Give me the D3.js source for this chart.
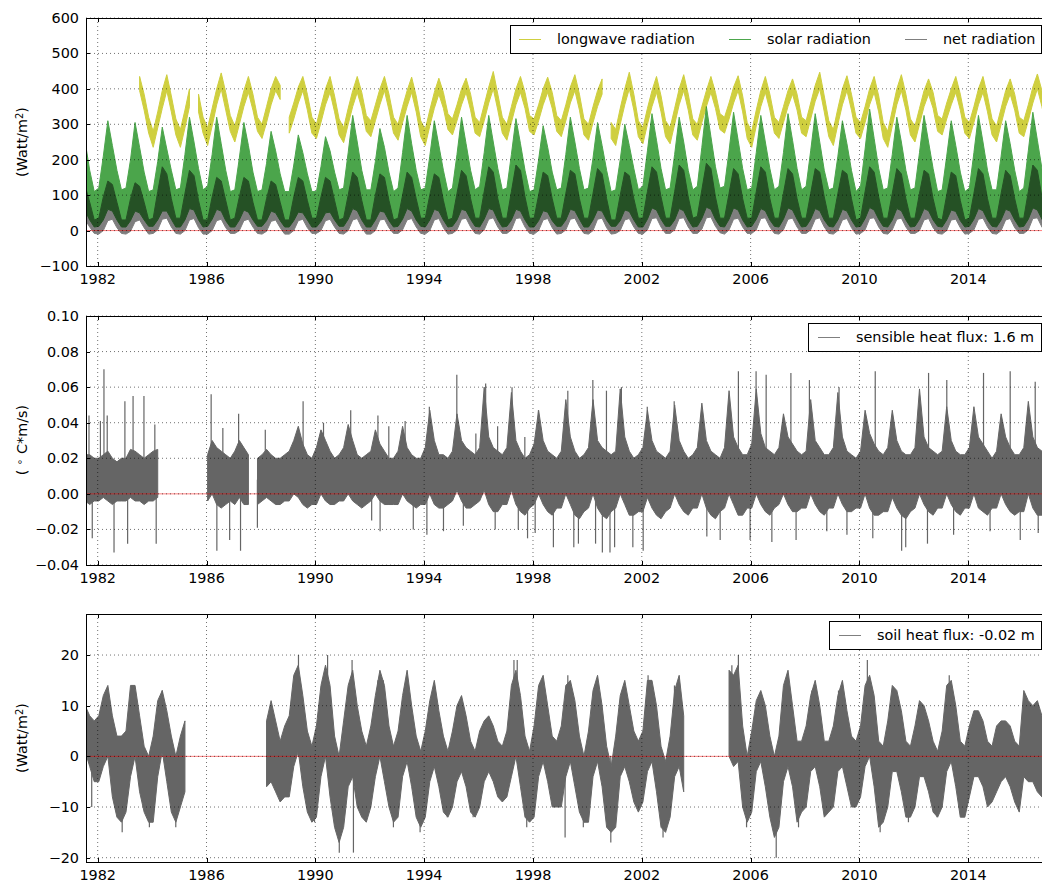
<!DOCTYPE html>
<html>
<head>
<meta charset="utf-8">
<script src="https://cdn.jsdelivr.net/npm/d3@7"></script>
<style>
  body { margin: 0; background: #fff; }
  svg { font-family: "DejaVu Sans", sans-serif; }
</style>
</head>
<body>
<svg id="fig" width="1042" height="882"></svg>
<script>
// bimonthly envelope samples (min / max of the daily values)
// first sample mid-July 1981, then one every 2 months: Jan Mar May Jul Sep Nov
var _ = null;
var sampleStart = 1981.54;
var sampleStep = 1 / 6;

var longwaveHi = [
  _,_,_,
  _,_,_,_,_,_,  _,_,_,435,385,320,
  280,335,395,440,380,315,  285,340,400,_,385,320,
  290,345,400,445,390,325,  295,345,395,435,385,320,
  300,350,400,435,410,_,    320,360,405,435,385,320,
  300,350,400,435,380,315,  290,345,395,435,390,325,
  310,355,400,435,385,320,  300,350,395,433,380,310,
  285,340,390,430,390,330,  315,355,400,430,385,320,
  305,355,405,449,385,320,  300,350,400,435,390,325,
  315,355,400,433,390,325,  310,355,405,440,385,315,
  300,350,395,428,_,305,    285,345,400,447,385,310,
  290,345,395,435,380,310,  290,345,400,440,385,315,
  300,350,395,435,390,330,  320,360,405,437,380,305,
  280,340,395,435,385,320,  305,350,395,428,385,320,
  310,360,410,447,380,310,  285,345,400,437,385,320,
  305,350,400,435,380,305,  280,340,400,440,385,315,
  295,345,395,428,390,325,  315,360,400,435,385,320,
  305,350,400,435,380,315,  295,345,395,428,385,320,
  310,355,405,442,395,330
];
var longwaveLo = [
  _,_,_,
  _,_,_,_,_,_,  _,_,_,395,340,275,
  235,290,345,395,335,270,  235,290,350,_,335,275,
  240,295,355,400,340,280,  250,300,350,390,340,280,
  260,305,355,395,370,_,    275,315,360,395,340,275,
  260,305,355,390,335,270,  248,300,350,390,345,280,
  265,310,355,395,340,275,  255,305,350,390,335,265,
  240,295,345,385,345,285,  270,310,355,390,340,275,
  265,310,360,400,340,275,  255,305,355,390,345,280,
  270,310,355,390,345,280,  265,310,360,395,340,270,
  255,305,350,385,_,260,    240,300,355,400,340,265,
  245,300,350,390,335,265,  245,300,355,395,340,270,
  255,305,350,390,345,285,  275,315,360,395,335,260,
  235,295,350,390,340,275,  260,305,350,385,340,275,
  265,315,365,400,335,265,  240,300,355,395,340,275,
  260,305,355,390,335,260,  235,295,355,395,340,270,
  250,300,350,385,345,280,  270,315,355,390,340,275,
  260,305,355,390,335,270,  250,300,350,385,340,275,
  265,310,360,400,350,285
];

var solarHi = [
  250,170,110,
  120,210,310,240,170,115,  120,200,305,235,165,110,
  115,195,292,230,170,115,  120,215,320,250,175,115,
  125,215,320,245,170,110,  115,205,305,240,165,110,
  115,190,280,225,160,110,  110,185,270,220,160,110,
  110,180,265,225,165,115,  120,220,325,250,170,115,
  115,195,288,235,165,110,  120,220,325,245,170,115,
  120,210,310,240,170,110,  120,215,320,245,170,115,
  125,220,325,250,175,115,  120,215,316,245,170,110,
  115,200,296,235,165,115,  120,215,320,250,175,115,
  120,205,305,240,170,110,  115,200,300,240,175,115,
  125,225,330,255,175,115,  120,215,320,250,170,115,
  125,235,350,265,180,120,  125,225,334,255,175,115,
  120,220,325,250,175,115,  125,220,330,255,175,115,
  125,225,330,250,170,115,  120,210,310,245,170,110,
  125,230,343,260,175,115,  120,215,320,250,170,115,
  120,220,325,250,175,110,  115,210,310,240,165,110,
  120,220,325,250,170,115,  115,210,310,245,170,110,
  120,225,334,255,175,120
];
var solarLo = [
  55,30,10,
  12,30,60,55,30,10,  10,28,55,50,30,12,
  12,30,55,55,32,10,  10,30,62,58,30,10,
  12,32,60,55,28,10,  10,30,58,52,30,12,
  12,28,55,50,28,10,  10,28,52,50,30,10,
  10,26,50,52,30,12,  12,32,62,56,30,10,
  10,30,55,52,28,10,  12,32,62,55,30,12,
  10,30,60,55,30,10,  12,30,60,56,32,12,
  10,32,62,58,30,10,  12,30,60,55,30,10,
  10,28,56,52,28,12,  12,30,60,56,32,10,
  10,30,58,55,30,12,  12,28,58,54,30,10,
  10,32,64,58,32,12,  12,30,62,56,30,10,
  12,34,66,60,32,12,  10,32,64,58,30,10,
  12,32,62,56,30,12,  10,32,64,58,32,10,
  12,32,62,56,30,12,  10,30,60,55,30,10,
  12,34,65,58,32,12,  10,30,62,56,30,10,
  12,32,62,56,30,12,  10,30,58,54,28,10,
  12,32,62,56,30,12,  10,30,60,55,30,10,
  12,32,64,58,32,12
];

var netHi = [
  125,80,30,
  35,95,140,130,80,30,   30,90,135,125,80,30,
  35,110,180,160,90,35,  35,105,170,155,85,30,
  30,95,150,140,85,30,   35,95,150,140,80,30,
  30,90,140,130,80,30,   30,95,150,140,85,35,
  35,95,150,140,85,30,   35,100,165,150,85,30,
  30,100,160,150,85,30,  35,100,165,150,90,35,
  35,100,160,150,85,30,  35,105,170,155,90,35,
  35,110,180,165,90,35,  35,110,185,170,95,35,
  35,100,165,155,90,35,  35,105,170,160,90,35,
  35,105,175,160,90,30,  30,100,165,155,90,35,
  35,110,180,165,95,35,  35,110,185,170,95,35,
  40,115,190,175,95,35,  35,105,175,160,90,35,
  35,110,180,165,90,35,  35,105,175,160,90,35,
  35,105,175,165,95,35,  35,105,170,160,90,30,
  35,110,180,165,95,35,  35,105,175,160,90,35,
  35,105,170,160,90,35,  30,100,165,155,85,30,
  35,105,175,160,90,35,  35,105,170,155,90,35,
  35,110,185,170,95,35
];
var netLo = [
  30,10,-8,
  -10,0,28,32,8,-8,   -10,-2,25,30,8,-10,
  -8,2,32,35,10,-8,   -10,0,30,34,8,-10,
  -10,0,28,32,8,-8,   -8,0,28,32,10,-8,
  -10,-2,26,30,8,-10, -10,0,28,32,8,-8,
  -8,0,28,32,10,-8,   -10,0,30,34,8,-10,
  -10,0,30,32,8,-8,   -8,2,30,34,10,-8,
  -10,0,30,34,8,-10,  -8,2,32,35,10,-8,
  -10,2,32,36,10,-8,  -8,2,34,36,10,-8,
  -10,0,30,34,8,-10,  -8,2,32,35,10,-8,
  -10,0,32,35,8,-10,  -8,0,30,34,10,-8,
  -10,2,34,36,10,-8,  -8,2,34,36,10,-8,
  -8,4,36,38,12,-6,   -10,2,32,35,10,-8,
  -8,2,34,36,10,-8,   -10,2,32,35,10,-8,
  -8,2,32,36,10,-8,   -10,0,30,34,8,-10,
  -8,2,34,36,10,-8,   -10,2,32,35,10,-8,
  -8,0,30,34,8,-8,    -10,0,30,32,8,-10,
  -8,2,32,35,10,-8,   -10,0,30,34,8,-8,
  -8,2,34,36,10,-6
];

var sensibleHi = [
  0.022,0.022,0.020,
  0.020,0.022,0.024,0.020,0.018,0.020,  0.020,0.025,0.024,0.022,0.020,0.022,
  0.024,0.025,_,_,_,_,                  _,_,_,_,_,_,
  0.022,0.030,0.026,0.024,0.022,0.020,  0.024,0.030,0.026,0.022,_,0.020,
  0.022,0.025,0.022,0.020,0.020,0.022,  0.024,0.030,0.038,0.028,0.022,0.020,
  0.026,0.036,0.030,0.024,0.020,0.022,  0.026,0.039,0.030,0.022,0.020,0.022,
  0.024,0.036,0.028,0.024,0.020,0.020,  0.024,0.038,0.026,0.022,0.020,0.020,
  0.026,0.047,0.030,0.022,0.022,0.020,  0.024,0.045,0.030,0.026,0.024,0.022,
  0.026,0.060,0.032,0.026,0.024,0.022,  0.026,0.057,0.030,0.024,0.020,0.022,
  0.028,0.047,0.030,0.024,0.022,0.020,  0.024,0.053,0.032,0.024,0.020,0.022,
  0.026,0.053,0.030,0.026,0.024,0.022,  0.024,0.059,0.032,0.024,0.020,0.022,
  0.026,0.047,0.030,0.024,0.022,0.020,  0.024,0.050,0.030,0.024,0.020,0.022,
  0.026,0.051,0.030,0.024,0.022,0.020,  0.026,0.058,0.032,0.026,0.022,0.022,
  0.028,0.059,0.034,0.026,0.024,0.022,  0.026,0.045,0.032,0.028,0.024,0.022,
  0.024,0.053,0.030,0.026,0.022,0.022,  0.026,0.057,0.032,0.024,0.022,0.020,
  0.024,0.047,0.034,0.028,0.024,0.022,  0.026,0.047,0.030,0.024,0.022,0.022,
  0.026,0.059,0.032,0.026,0.024,0.022,  0.024,0.049,0.030,0.024,0.022,0.022,
  0.026,0.049,0.032,0.028,0.024,0.020,  0.024,0.045,0.032,0.026,0.022,0.022,
  0.026,0.052,0.032,0.026,0.024,0.022
];
var sensibleLo = [
  -0.004,-0.006,-0.004,
  -0.004,-0.002,-0.004,-0.006,-0.004,-0.004,  -0.004,-0.002,-0.004,-0.004,-0.006,-0.004,
  -0.004,-0.002,_,_,_,_,                      _,_,_,_,_,_,
  -0.004,0.000,-0.006,-0.008,-0.006,-0.004,   -0.006,-0.002,-0.006,-0.006,_,-0.006,
  -0.004,-0.002,-0.004,-0.006,-0.006,-0.004,  -0.004,0.000,-0.002,-0.006,-0.008,-0.006,
  -0.006,0.000,-0.004,-0.006,-0.006,-0.004,   -0.004,0.000,-0.004,-0.006,-0.008,-0.006,
  -0.004,0.000,-0.004,-0.006,-0.006,-0.006,   -0.006,0.000,-0.004,-0.006,-0.008,-0.006,
  -0.006,0.000,-0.006,-0.008,-0.008,-0.006,   -0.004,0.002,-0.004,-0.008,-0.008,-0.006,
  -0.004,0.002,-0.006,-0.010,-0.010,-0.006,   -0.006,0.002,-0.006,-0.010,-0.012,-0.008,
  -0.006,0.000,-0.006,-0.010,-0.012,-0.008,   -0.008,0.000,-0.006,-0.012,-0.014,-0.010,
  -0.008,0.000,-0.008,-0.012,-0.014,-0.010,   -0.008,0.000,-0.006,-0.012,-0.012,-0.010,
  -0.010,-0.002,-0.008,-0.012,-0.014,-0.010,  -0.008,0.000,-0.006,-0.010,-0.012,-0.008,
  -0.008,0.000,-0.008,-0.012,-0.014,-0.010,   -0.008,0.000,-0.006,-0.012,-0.012,-0.008,
  -0.008,0.000,-0.006,-0.010,-0.012,-0.008,   -0.006,0.000,-0.006,-0.010,-0.010,-0.008,
  -0.008,0.000,-0.006,-0.010,-0.012,-0.008,   -0.008,0.000,-0.006,-0.010,-0.010,-0.008,
  -0.008,0.000,-0.008,-0.012,-0.012,-0.010,   -0.010,-0.002,-0.008,-0.012,-0.014,-0.010,
  -0.008,0.000,-0.006,-0.010,-0.012,-0.008,   -0.008,0.000,-0.006,-0.010,-0.012,-0.008,
  -0.008,0.000,-0.008,-0.010,-0.012,-0.008,   -0.008,0.000,-0.006,-0.010,-0.012,-0.010,
  -0.010,0.000,-0.008,-0.012,-0.012,-0.010
];

var soilHi = [
  10,8,7,
  8,12,14,8,4,4,    5,14,14,8,2,0,
  4,11,13,9,4,0,    4,7,_,_,_,_,
  _,_,_,_,_,_,      _,_,_,_,_,_,
  _,7,11,7,3,6,     8,16,18,12,5,2,
  6,14,18,14,4,0,   7,14,17,10,5,2,
  6,12,17,14,6,2,   5,12,17,10,4,1,
  5,11,15,9,4,1,    5,10,12,8,3,1,
  5,7,8,6,3,2,      5,14,17,12,4,1,
  6,14,16,10,4,3,   6,14,15,11,4,0,
  5,13,16,10,2,-2,  4,12,15,10,5,3,
  5,15,15,10,2,-1,  4,13,16,8,_,_,
  _,_,_,_,_,_,      _,17,16,18,6,0,
  5,11,13,10,4,0,   4,14,17,10,3,3,
  6,12,15,10,3,3,   6,12,15,9,4,3,
  6,14,16,12,3,2,   7,14,13,9,3,2,
  6,11,10,7,3,1,    5,14,15,10,3,2,
  6,9,9,7,3,2,      6,7,7,6,3,2,
  13,11,10,11,8,8
];
var soilLo = [
  1,-2,-5,
  -5,-2,0,-8,-12,-13,   -11,-4,0,-7,-11,-13,
  -13,-4,1,-5,-11,-13,  -10,-7,_,_,_,_,
  _,_,_,_,_,_,          _,_,_,_,_,_,
  _,-6,-5,-7,-9,-8,     -8,-2,1,-6,-11,-13,
  -12,-4,0,-8,-14,-17,  -14,-6,-4,-10,-12,-13,
  -10,-4,0,-5,-10,-13,  -12,-4,-1,-6,-12,-14,
  -12,-5,-2,-6,-11,-12, -10,-5,-3,-6,-11,-12,
  -10,-5,-3,-5,-8,-9,   -8,-4,0,-6,-12,-13,
  -12,-4,-1,-5,-10,-10, -10,-4,-1,-6,-11,-13,
  -13,-4,-1,-6,-14,-15, -14,-4,-2,-5,-9,-11,
  -9,-3,-1,-7,-14,-15,  -12,-4,-2,-7,_,_,
  _,_,_,_,_,_,          _,0,-2,-1,-10,-13,
  -11,-3,-1,-6,-12,-16, -14,-5,-2,-6,-13,-11,
  -10,-3,-2,-6,-12,-11, -10,-3,-2,-6,-10,-10,
  -8,-2,0,-6,-14,-13,   -10,-3,-3,-7,-12,-12,
  -10,-4,-4,-7,-11,-12, -10,-3,-1,-6,-12,-12,
  -8,-4,-4,-6,-10,-9,   -7,-5,-4,-6,-9,-11,
  -4,-5,-5,-7,-8,-8
];

// single-day extremes that stick out of the envelopes
var sensibleSpikeT = [
  1981.68,1981.8,1982.1,1982.23,1982.35,1982.6,1983.0,1983.1,1983.3,1983.7,
  1984.1,1984.15,1986.17,1986.38,1986.6,1986.85,1987.18,1987.25,1987.87,1988.16,
  1989.55,1990.3,1991.3,1992.07,1992.3,1992.38,1992.7,1993.3,1993.6,1994.1,
  1994.19,1994.71,1995.2,1995.44,1995.9,1996.26,1996.61,1996.7,1997.23,1997.46,
  1997.7,1997.8,1998.08,1998.2,1998.75,1999.28,1999.5,1999.67,2000.2,2000.3,
  2000.55,2000.7,2000.83,2001.0,2001.25,2001.67,2002.05,2002.2,2003.19,2004.39,
  2004.88,2005.55,2005.98,2006.2,2006.57,2006.78,2007.48,2007.67,2008.16,2008.8,
  2009.25,2009.54,2010.49,2010.58,2011.55,2011.7,2012.5,2012.54,2013.21,2013.46,
  2014.56,2014.8,2015.54,2015.91,2016.46,2016.57
];
var sensibleSpikeV = [
  0.044,-0.025,0.041,0.070,0.044,-0.033,0.052,-0.028,0.055,0.055,
  0.039,-0.028,0.056,-0.032,0.037,-0.026,0.045,-0.032,-0.019,0.036,
  0.052,0.040,0.047,-0.015,0.044,-0.021,0.038,0.041,-0.020,-0.023,
  0.049,-0.021,0.067,-0.018,0.034,0.062,-0.020,0.038,0.060,-0.020,
  0.032,-0.025,-0.022,0.047,-0.030,0.058,-0.030,-0.028,0.064,-0.028,
  -0.033,0.058,-0.033,-0.030,0.060,-0.030,-0.032,0.049,0.052,-0.024,
  -0.026,0.069,-0.026,0.069,0.067,-0.027,0.068,-0.026,0.064,-0.021,
  0.060,-0.023,-0.025,0.069,-0.032,-0.030,-0.028,0.068,0.064,-0.023,
  0.068,-0.021,0.069,-0.026,0.063,-0.022
];
var soilSpikeT = [
  1981.78,1982.32,1982.9,1983.3,1983.9,1984.37,1984.87,1988.4,1988.8,1989.38,
  1989.97,1990.45,1990.88,1991.35,1991.4,1991.8,1992.3,1992.5,1992.87,1993.35,
  1993.85,1994.33,1994.85,1995.25,1995.8,1997.3,1997.42,1997.77,1998.27,1999.18,
  1999.28,1999.85,2000.28,2000.86,2001.3,2002.23,2002.78,2003.2,2005.31,2005.55,
  2005.85,2006.94,2007.33,2007.76,2008.25,2009.23,2010.29,2010.76,2011.8,2012.85,
  2013.3,2016.1
];
var soilSpikeV = [
  -10,12,-15,14,-14,13,-14,9,-8,20,
  -13,20,-19,19,-19,-12,15,15,-14,15,
  -15,13,-12,10,-12,19,19,-14,14,-16,
  16,-14,14,-17,13,16,-16,14,18,20,
  -14,-20,15,-14,13,13,19,-15,-13,-12,
  16,11
];

var xTicks = [1982, 1986, 1990, 1994, 1998, 2002, 2006, 2010, 2014];
var radTicks = [-100, 0, 100, 200, 300, 400, 500, 600];
var sensTicks = [-0.04, -0.02, 0.00, 0.02, 0.04, 0.06, 0.08, 0.10];
var soilTicks = [-20, -10, 0, 10, 20];

var svg = d3.select('#fig');
var left = 86, right = 1048;
var x = d3.scaleLinear().domain([1981.57, 2016.93]).range([left, right]);

var minus = function (s) { return s.replace('-', '\u2212'); };

var panels = [
  { top: 18,  bottom: 266, domain: [-100, 600],     ticks: radTicks,  fmt: function (d) { return minus(String(d)); } },
  { top: 316, bottom: 565, domain: [-0.04, 0.10],   ticks: sensTicks, fmt: function (d) { return minus(d.toFixed(2)); } },
  { top: 614, bottom: 862, domain: [-20.85, 28.1],  ticks: soilTicks, fmt: function (d) { return minus(String(d)); } }
];

function band(hi, lo) {
  var n = Math.min(hi.length, lo.length), out = [];
  for (var i = 0; i < n; i++) out.push({ t: sampleStart + i * sampleStep, hi: hi[i], lo: lo[i] });
  return out;
}

function drawBand(g, y, hi, lo, color, alpha) {
  var area = d3.area()
    .defined(function (d) { return d.hi != null && d.lo != null; })
    .x(function (d) { return x(d.t); })
    .y0(function (d) { return y(d.lo); })
    .y1(function (d) { return y(d.hi); });
  var s = g.append('g').attr('opacity', alpha);
  s.append('path')
    .datum(band(hi, lo))
    .attr('d', area)
    .attr('fill', color)
    .attr('stroke', color)
    .attr('stroke-width', 1);
  return s;
}

function drawSpikes(s, y, ts, vs, base, color) {
  s.selectAll('line.spike')
    .data(ts)
    .enter()
    .append('line')
    .attr('class', 'spike')
    .attr('x1', function (d) { return x(d); })
    .attr('x2', function (d) { return x(d); })
    .attr('y1', y(base))
    .attr('y2', function (d, i) { return y(vs[i]); })
    .attr('stroke', color)
    .attr('stroke-width', 1.2);
}

panels.forEach(function (p, k) {
  var y = d3.scaleLinear().domain(p.domain).range([p.bottom, p.top]);

  svg.append('clipPath').attr('id', 'clip' + k)
    .append('rect')
    .attr('x', left).attr('y', p.top)
    .attr('width', right - left).attr('height', p.bottom - p.top);

  var g = svg.append('g').attr('clip-path', 'url(#clip' + k + ')');

  if (k === 0) {
    drawBand(g, y, longwaveHi, longwaveLo, '#bfbf00', 0.75);
    drawBand(g, y, solarHi, solarLo, '#008000', 0.7);
    drawBand(g, y, netHi, netLo, '#000000', 0.5);
  } else if (k === 1) {
    var s1 = drawBand(g, y, sensibleHi, sensibleLo, '#000000', 0.6);
    drawSpikes(s1, y, sensibleSpikeT, sensibleSpikeV, 0.008, '#000000');
  } else {
    var s2 = drawBand(g, y, soilHi, soilLo, '#000000', 0.6);
    drawSpikes(s2, y, soilSpikeT, soilSpikeV, 0, '#000000');
  }

  // zero line
  g.append('line')
    .attr('x1', left).attr('x2', right)
    .attr('y1', y(0)).attr('y2', y(0))
    .attr('stroke', '#ff0000').attr('stroke-opacity', 0.5).attr('stroke-width', 1);

  // dotted grid, drawn over the data
  var grid = svg.append('g')
    .attr('stroke', '#000').attr('stroke-opacity', 0.7)
    .attr('stroke-width', 0.8).attr('stroke-dasharray', '1,3');
  grid.selectAll('line.gx').data(xTicks).enter().append('line')
    .attr('x1', function (d) { return x(d); }).attr('x2', function (d) { return x(d); })
    .attr('y1', p.top).attr('y2', p.bottom);
  grid.selectAll('line.gy').data(p.ticks).enter().append('line')
    .attr('x1', left).attr('x2', right)
    .attr('y1', function (d) { return y(d); }).attr('y2', function (d) { return y(d); });

  // frame
  svg.append('rect')
    .attr('x', left + 0.5).attr('y', p.top + 0.5)
    .attr('width', right - left).attr('height', p.bottom - p.top)
    .attr('fill', 'none').attr('stroke', '#000').attr('stroke-width', 1);

  // inward ticks
  var tk = svg.append('g').attr('stroke', '#000').attr('stroke-width', 1);
  xTicks.forEach(function (d) {
    var xx = Math.round(x(d)) + 0.5;
    tk.append('line').attr('x1', xx).attr('x2', xx).attr('y1', p.bottom).attr('y2', p.bottom - 4);
    tk.append('line').attr('x1', xx).attr('x2', xx).attr('y1', p.top).attr('y2', p.top + 4);
  });
  p.ticks.forEach(function (d) {
    var yy = Math.round(y(d)) + 0.5;
    tk.append('line').attr('x1', left).attr('x2', left + 4).attr('y1', yy).attr('y2', yy);
  });

  // tick labels
  svg.append('g').selectAll('text').data(xTicks).enter().append('text')
    .attr('x', function (d) { return x(d); })
    .attr('y', p.bottom + 18)
    .attr('text-anchor', 'middle')
    .attr('font-size', 14.4)
    .text(function (d) { return d; });
  svg.append('g').selectAll('text').data(p.ticks).enter().append('text')
    .attr('x', left - 7)
    .attr('y', function (d) { return y(d) + 5; })
    .attr('text-anchor', 'end')
    .attr('font-size', 14.4)
    .text(p.fmt);
});

// y axis labels
function yLabel(cy, parts) {
  var t = svg.append('text')
    .attr('transform', 'translate(27,' + cy + ') rotate(-90)')
    .attr('text-anchor', 'middle')
    .attr('font-size', 14.4)
    .attr('xml:space', 'preserve');
  parts.forEach(function (pt) {
    var ts = t.append('tspan').text(pt.s);
    if (pt.sup) ts.attr('font-size', 10).attr('baseline-shift', '40%');
  });
}
yLabel(142, [{ s: '(Watt/m' }, { s: '2', sup: true }, { s: ')' }]);
yLabel(440, [{ s: '( ' }, { s: '\u2218', sup: true }, { s: ' C*m/s)' }]);
yLabel(738, [{ s: '(Watt/m' }, { s: '2', sup: true }, { s: ')' }]);

// legends
function legend(bx, by, bw, entries) {
  var g = svg.append('g');
  g.append('rect').attr('x', bx + 0.5).attr('y', by + 0.5).attr('width', bw).attr('height', 28)
    .attr('fill', '#fff').attr('stroke', '#000').attr('stroke-width', 1);
  entries.forEach(function (e) {
    g.append('line').attr('x1', e.x).attr('x2', e.x + 22)
      .attr('y1', by + 14.5).attr('y2', by + 14.5)
      .attr('stroke', e.color).attr('stroke-opacity', e.alpha).attr('stroke-width', 1);
    g.append('text').attr('x', e.x + 38).attr('y', by + 19)
      .attr('font-size', 14.4).text(e.label);
  });
}
legend(510, 25, 531, [
  { x: 519, color: '#bfbf00', alpha: 0.75, label: 'longwave radiation' },
  { x: 729, color: '#008000', alpha: 0.7, label: 'solar radiation' },
  { x: 905, color: '#000000', alpha: 0.5, label: 'net radiation' }
]);
legend(808, 323, 233, [
  { x: 818, color: '#000000', alpha: 0.5, label: 'sensible heat flux: 1.6 m' }
]);
legend(829, 621, 212, [
  { x: 839, color: '#000000', alpha: 0.5, label: 'soil heat flux: -0.02 m' }
]);
</script>
</body>
</html>
